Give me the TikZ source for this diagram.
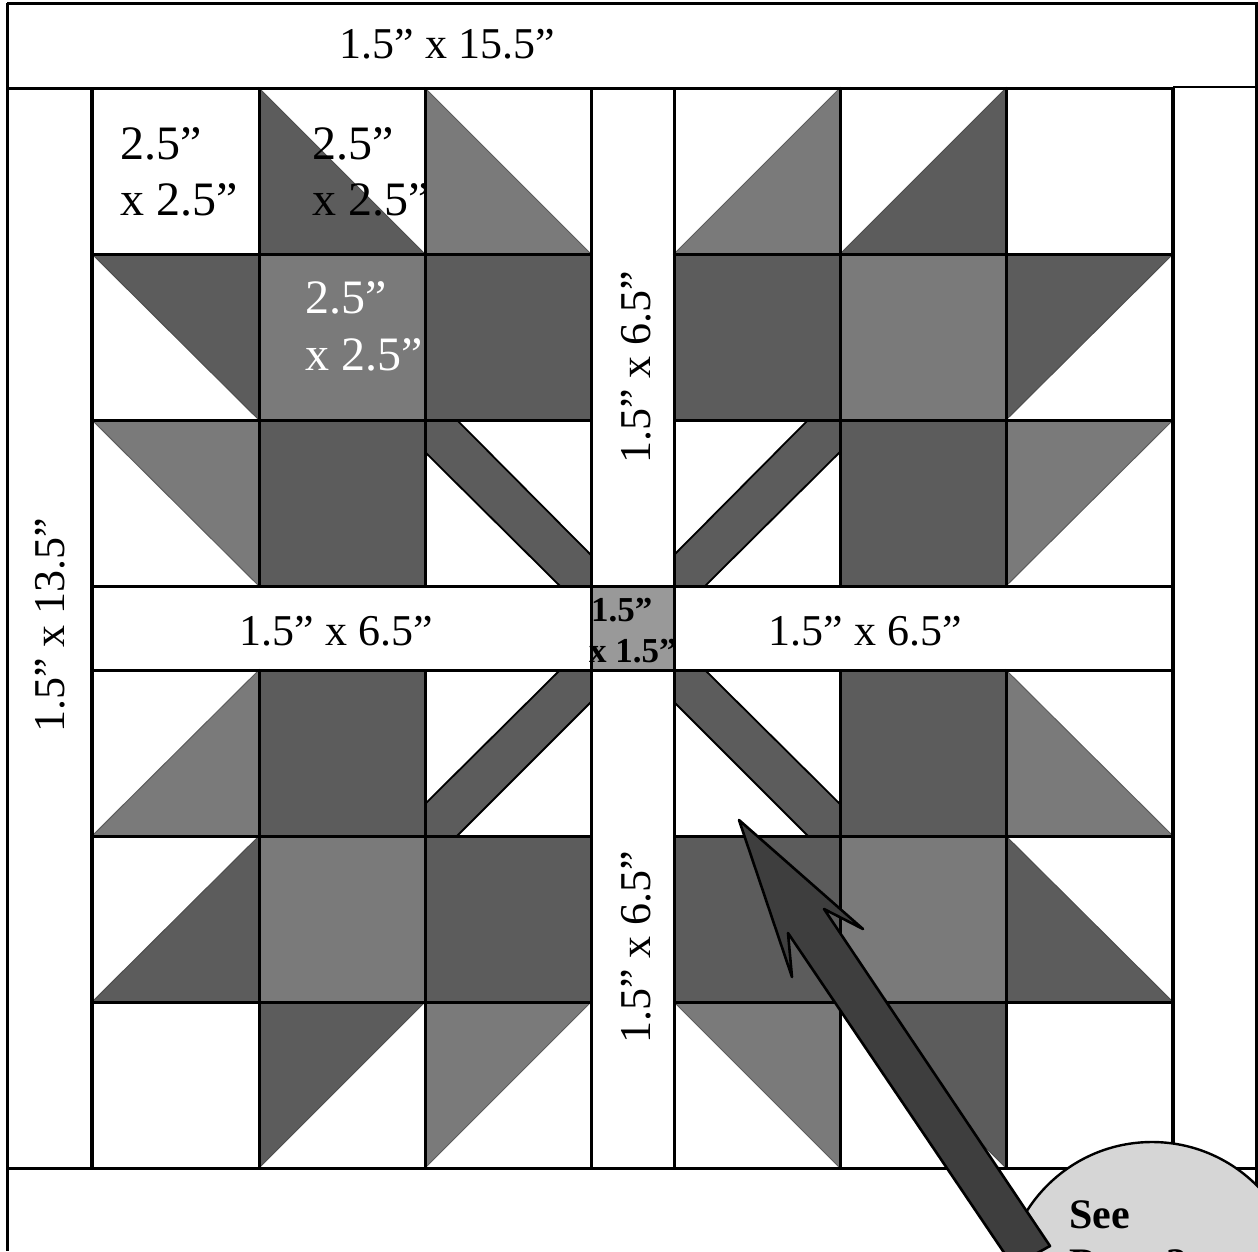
\documentclass[tikz,border=0pt]{standalone}
\usepackage{fontspec}
\setmainfont{Liberation Serif}
\definecolor{dk}{HTML}{5C5C5C}
\definecolor{md}{HTML}{7A7A7A}
\definecolor{ctr}{HTML}{999999}
\definecolor{arr}{HTML}{3E3E3E}
\definecolor{bub}{HTML}{D6D6D6}
\tikzset{
  dkf/.style={fill=dk,draw=dk!85!black,line width=1pt},
  mdf/.style={fill=md,draw=dk,line width=1pt},
  stem/.style={fill=dk,draw=black,line width=1.8pt},
  gridline/.style={draw=black,line width=3pt},
  lab/.style={font=\fontsize{44}{50}\selectfont,inner sep=0pt},
  bigtxt/.style={font=\fontsize{48}{57}\selectfont,inner sep=0pt},
  midtxt/.style={font=\fontsize{35}{40}\bfseries\selectfont,inner sep=0pt},
  seetxt/.style={font=\fontsize{42}{50}\bfseries\selectfont,inner sep=0pt}
}
\begin{document}
\begin{tikzpicture}[x=1pt,y=-1pt]
\useasboundingbox (0,0) rectangle (1258,1251);
\clip (0,0) rectangle (1258,1251);
\fill[white] (0,0) rectangle (1258,1251);
% squares
\fill[dk] (425,254) rectangle (591,420);
\fill[dk] (674,254) rectangle (840,420);
\fill[dk] (259,420) rectangle (425,586);
\fill[dk] (840,420) rectangle (1006,586);
\fill[dk] (259,670) rectangle (425,836);
\fill[dk] (840,670) rectangle (1006,836);
\fill[dk] (425,836) rectangle (591,1002);
\fill[dk] (674,836) rectangle (840,1002);
\fill[md] (259,254) rectangle (425,420);
\fill[md] (840,254) rectangle (1006,420);
\fill[md] (259,836) rectangle (425,1002);
\fill[md] (840,836) rectangle (1006,1002);
\fill[ctr] (591,586) rectangle (674,670);
% triangles
\draw[dkf] (259,88)--(425,254)--(259,254)--cycle;
\draw[mdf] (425,88)--(591,254)--(425,254)--cycle;
\draw[mdf] (840,88)--(840,254)--(674,254)--cycle;
\draw[dkf] (1006,88)--(1006,254)--(840,254)--cycle;
\draw[dkf] (92,254)--(259,254)--(259,420)--cycle;
\draw[dkf] (1173,254)--(1006,254)--(1006,420)--cycle;
\draw[mdf] (92,420)--(259,420)--(259,586)--cycle;
\draw[mdf] (1173,420)--(1006,420)--(1006,586)--cycle;
\draw[mdf] (259,670)--(259,836)--(92,836)--cycle;
\draw[mdf] (1006,670)--(1006,836)--(1173,836)--cycle;
\draw[dkf] (259,836)--(259,1002)--(92,1002)--cycle;
\draw[dkf] (1006,836)--(1006,1002)--(1173,1002)--cycle;
\draw[dkf] (259,1002)--(425,1002)--(259,1168)--cycle;
\draw[mdf] (425,1002)--(591,1002)--(425,1168)--cycle;
\draw[mdf] (674,1002)--(840,1002)--(840,1168)--cycle;
\draw[dkf] (840,1002)--(1006,1002)--(1006,1168)--cycle;
% stems
\draw[stem] (425,420)--(457,420)--(591,555)--(591,586)--(560,586)--(425,452)--cycle;
\draw[stem] (840,420)--(808,420)--(674,555)--(674,586)--(705,586)--(840,452)--cycle;
\draw[stem] (425,836)--(457,836)--(591,702)--(591,670)--(560,670)--(425,804)--cycle;
\draw[stem] (840,836)--(808,836)--(674,702)--(674,670)--(705,670)--(840,804)--cycle;
% grid
\draw[gridline] (7,3)--(1256.5,3)--(1256.5,1251);
\draw[gridline] (7,3)--(7,1251);
\draw[gridline] (7,88)--(1173,88);
\draw[gridline,line width=2.4pt] (1173,87)--(1256,87);
\draw[gridline] (7,1168)--(1256,1168);
\draw[gridline,line width=4pt] (92,88)--(92,1168);
\draw[gridline,line width=3.6pt] (1173,88)--(1173,1168);
\foreach \x in {259,425,591,674,840,1006}{\draw[gridline] (\x,88)--(\x,586);\draw[gridline] (\x,670)--(\x,1168);}
\draw[gridline] (591,586)--(591,670);
\draw[gridline] (674,586)--(674,670);
\foreach \y in {254,420,836,1002}{\draw[gridline] (92,\y)--(591,\y);\draw[gridline] (674,\y)--(1173,\y);}
\foreach \y in {586,670}{\draw[gridline] (92,\y)--(1173,\y);}
% bubble
\draw[fill=bub,draw=black,line width=2.4pt] (1152,1290) circle[radius=148];
% arrow
\draw[fill=arr,draw=black,line width=2.6pt,line join=round] (739,820)--(863,929)--(824,909)--(1050,1246)--(1030,1257)--(1007,1257)--(788,933)--(792,977)--cycle;
% labels
\node[lab,anchor=base] (t1) at (447,58) {1.5” x 15.5”};
\node[lab,anchor=base,rotate=90] (t2) at (64,625) {1.5” x 13.5”};
\node[lab,anchor=base,rotate=90] (t3) at (650,367) {1.5” x 6.5”};
\node[lab,anchor=base,rotate=90] (t4) at (650,947) {1.5” x 6.5”};
\node[lab,anchor=base] (t5) at (336,645) {1.5” x 6.5”};
\node[lab,anchor=base] (t6) at (865,645) {1.5” x 6.5”};
\node[bigtxt,anchor=base west] (c1) at (120,159) {2.5”};
\node[bigtxt,anchor=base west] (c1b) at (120,215) {x 2.5”};
\node[bigtxt,anchor=base west] (c2) at (312,159) {2.5”};
\node[bigtxt,anchor=base west] (c2b) at (312,215) {x 2.5”};
\node[bigtxt,anchor=base west,text=white] (c3) at (305,313) {2.5”};
\node[bigtxt,anchor=base west,text=white] (c3b) at (305,370) {x 2.5”};
\node[midtxt,anchor=base west] (m1) at (591,621) {1.5”};
\node[midtxt,anchor=base west] (m2) at (589,662) {x 1.5”};
\node[seetxt,anchor=base west] (s1) at (1069,1228) {See};
\node[seetxt,anchor=base west] (s2) at (1069,1277) {Page 3};
\end{tikzpicture}
\end{document}
